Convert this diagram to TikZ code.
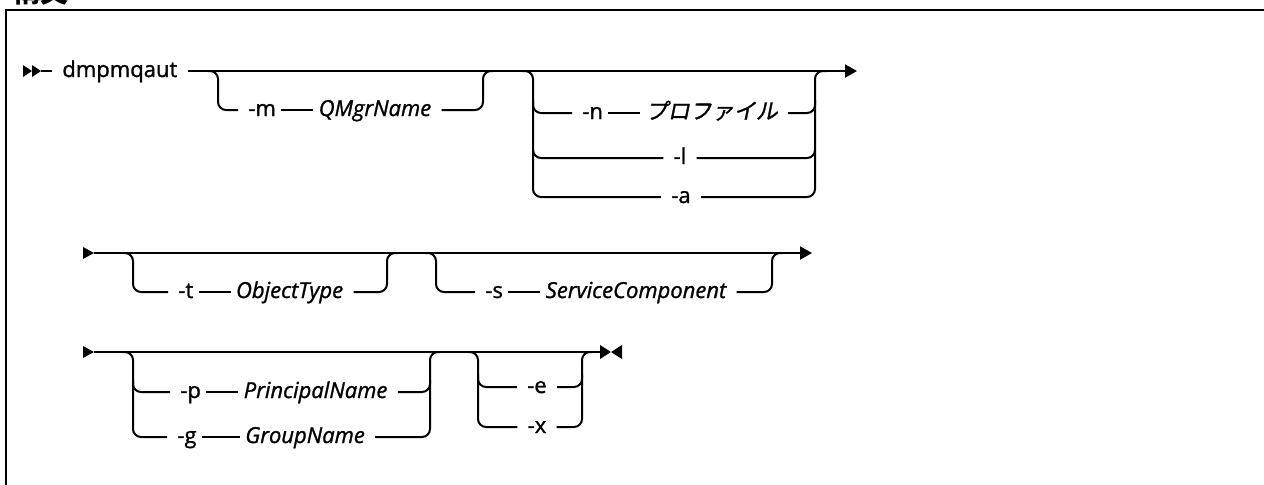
\documentclass[tikz,border=0pt]{standalone}
\usepackage{fontspec}
\setmainfont{Open Sans}[FakeBold=1.2]
\newfontfamily\jpfont[FakeSlant=0.2, FakeBold=1.2]{Noto Sans CJK JP}
\newfontfamily\jphead{Noto Sans CJK JP}
\usetikzlibrary{arrows.meta, positioning}

\begin{document}
\begin{tikzpicture}[
    x=0.5pt, y=-0.5pt,
    tok/.style={
        inner xsep=5pt,
        inner ysep=0pt,
        text height=7.5pt,
        text depth=1.5pt,
        font=\fontsize{11}{13}\selectfont
    },
    var/.style={tok, font=\fontsize{11}{13}\selectfont\itshape},
    track/.style={line width=1pt, rounded corners=4pt},
    joinline/.style={line width=1pt, shorten <=-2.5pt, shorten >=-2.5pt},
    endarrow/.style={-{Triangle[length=6pt, width=6.5pt]}}
]
\useasboundingbox (0,0) rectangle (1264,484);

% frame and heading
\draw [line width=1.2pt] (6,490) -- (6,10) -- (1270,10);
\node (title) [anchor=base west, inner sep=0pt, font=\jphead\bfseries\fontsize{14}{16}\selectfont] at (12,2) {構文};

% row 1
\fill (23,65) -- (32,71) -- (23,77) -- cycle;
\fill (32,65) -- (41,71) -- (32,77) -- cycle;
\coordinate (start1) at (41,71);
\node (cmd) [tok, anchor=west] at (52,71) {dmpmqaut};
\draw [track] (start1) -- (cmd);
\draw [track, endarrow] (cmd) -- (857,71);

\node (m) [tok, anchor=west] at (238,110) {-m};
\node (qmgr) [var, right=11pt of m] {QMgrName};
\draw [track] (208,71) -- (218,71) -- (218,110) -- (m);
\draw [joinline] (m) -- (qmgr);
\draw [track] (qmgr) -- (483,110) -- (483,71) -- (493,71);

\node (n) [tok, anchor=west] at (572,113) {-n};
\node (prof) [tok, right=11pt of n] {\jpfont プロファイル};
\node (l) [tok] at (680,158) {-l};
\node (a) [tok] at (681,197) {-a};
\draw [track] (522,71) -- (533,71) -- (533,113) -- (n);
\draw [joinline] (n) -- (prof);
\draw [track] (prof) -- (815,113) -- (815,71) -- (827,71);
\draw [track] (533,100) -- (533,158) -- (l);
\draw [track] (l) -- (815,158) -- (815,100);
\draw [track] (533,150) -- (533,197) -- (a);
\draw [track] (a) -- (815,197) -- (815,150);

% row 2
\fill (83,247) -- (94,253) -- (83,259) -- cycle;
\coordinate (start2) at (94,253);
\coordinate (end2) at (812,253);
\draw [track, endarrow] (start2) -- (end2);

\node (t) [tok, anchor=west] at (168,292) {-t};
\node (objtype) [var, right=11pt of t] {ObjectType};
\draw [track] (123,253) -- (133,253) -- (133,292) -- (t);
\draw [joinline] (t) -- (objtype);
\draw [track] (objtype) -- (387,292) -- (387,253) -- (397,253);

\node (s) [tok, anchor=west] at (475,292) {-s};
\node (svc) [var, right=11pt of s] {ServiceComponent};
\draw [track] (425,253) -- (436,253) -- (436,292) -- (s);
\draw [joinline] (s) -- (svc);
\draw [track] (svc) -- (772,292) -- (772,253) -- (782,253);

% row 3
\fill (83,346) -- (94,352) -- (83,358) -- cycle;
\coordinate (start3) at (94,352);
\coordinate (end3) at (600,352);
\draw [track] (start3) -- (end3);
\fill (600,345) -- (611,352) -- (600,359) -- cycle;
\fill (622,345) -- (611,352) -- (622,359) -- cycle;

\node (p) [tok, anchor=west] at (170,392) {-p};
\node (princ) [var, right=11pt of p] {PrincipalName};
\node (g) [tok, anchor=west] at (167,437) {-g};
\node (grp) [var, right=14pt of g] {GroupName};
\draw [track] (123,352) -- (133,352) -- (133,392) -- (p);
\draw [joinline] (p) -- (princ);
\draw [track] (princ) -- (430,392) -- (430,352) -- (440,352);
\draw [track] (133,380) -- (133,437) -- (g);
\draw [joinline] (g) -- (grp);
\draw [track] (grp) -- (430,437) -- (430,380);

\node (e) [tok] at (537,387) {-e};
\node (x) [tok] at (537,427) {-x};
\draw [track] (468,352) -- (478,352) -- (478,387) -- (e);
\draw [track] (e) -- (582,387) -- (582,352) -- (592,352);
\draw [track] (478,375) -- (478,427) -- (x);
\draw [track] (x) -- (582,427) -- (582,375);

\end{tikzpicture}
\end{document}
